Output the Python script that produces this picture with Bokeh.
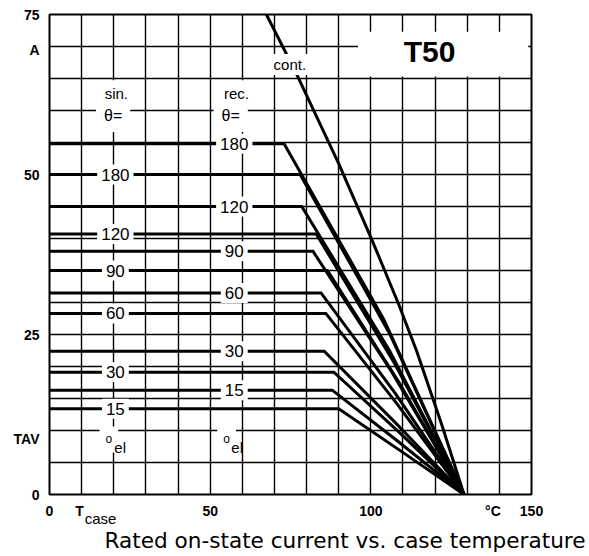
from bokeh.plotting import figure
from bokeh.models import (Range1d, FixedTicker, Label, BoxAnnotation,
                          ColumnDataSource, LinearAxis, Title)
from bokeh.embed import file_html
from bokeh.resources import INLINE

# ---------------- data ----------------
t_vj = 129.0  # all curves meet here (deg C, I = 0)

cont_t = [67.5, 76.9, 90.0, 100.5, 108.6, 114.2, 122.0, 129.0]
cont_i = [75.0, 65.7, 51.7, 39.6, 29.8, 22.5, 11.0, 0.0]

sin_angles = ["180", "120", "90", "60", "30", "15"]
sin_imax = [50.0, 40.7, 35.0, 28.3, 19.1, 13.4]
sin_tbreak = [78.0, 83.0, 86.5, 86.0, 88.5, 90.0]
sin_tmid = [106.0, 107.5, 108.8, 108.1, 109.1, 109.6]
sin_imid = [25.0, 20.4, 17.5, 14.2, 9.6, 6.7]

rec_angles = ["180", "120", "90", "60", "30", "15"]
rec_imax = [54.8, 45.0, 38.0, 31.5, 22.4, 16.3]
rec_tbreak = [73.0, 78.5, 82.0, 84.5, 85.5, 88.0]
rec_tmid = [104.0, 105.8, 106.7, 107.6, 107.7, 108.7]
rec_imid = [27.4, 22.5, 19.0, 15.8, 11.2, 8.2]

x_ticks = [0, 9.35, 50, 100, 138, 150]
x_tick_labels = ["0", "T", "50", "100", "°C", "150"]
x_sub_ticks = [15.9]
x_sub_labels = ["case"]
y_ticks = [0, 8.6, 25, 50, 69.4, 75]
y_tick_labels = ["0", "TAV", "25", "50", "A", "75"]

title_text = "Rated on-state current vs. case temperature"

# ---------------- figure ----------------
p = figure(frame_width=482, frame_height=480,
           x_range=Range1d(0, 150), y_range=Range1d(0, 75),
           output_backend="svg", toolbar_location=None, title=None,
           min_border_left=49, min_border_right=58,
           min_border_top=14, min_border_bottom=62)
p.background_fill_color = "white"
p.border_fill_color = "white"
p.outline_line_color = "black"
p.outline_line_width = 2

p.xgrid.ticker = FixedTicker(ticks=list(range(10, 150, 10)))
p.ygrid.ticker = FixedTicker(ticks=list(range(5, 75, 5)))
for g in (p.xgrid, p.ygrid):
    g.grid_line_color = "black"
    g.grid_line_width = 1.4
    g.grid_line_alpha = 1.0

p.xaxis.ticker = FixedTicker(ticks=x_ticks)
p.xaxis.major_label_overrides = dict(zip(x_ticks, x_tick_labels))
p.yaxis.ticker = FixedTicker(ticks=y_ticks)
p.yaxis.major_label_overrides = dict(zip(y_ticks, y_tick_labels))

sub_axis = LinearAxis(ticker=FixedTicker(ticks=x_sub_ticks),
                      major_label_overrides=dict(zip(x_sub_ticks, x_sub_labels)))
p.add_layout(sub_axis, "below")


def style_axis(ax, size="14px", weight="bold"):
    ax.axis_line_color = None
    ax.major_tick_line_color = None
    ax.minor_tick_line_color = None
    ax.major_tick_out = 0
    ax.major_tick_in = 0
    ax.minor_tick_out = 0
    ax.minor_tick_in = 0
    ax.major_label_text_font = "Liberation Sans"
    ax.major_label_text_font_style = weight
    ax.major_label_text_font_size = size
    ax.major_label_text_color = "black"


style_axis(p.xaxis[0])
style_axis(p.yaxis[0])
style_axis(sub_axis, size="15px", weight="normal")
p.xaxis[0].major_label_standoff = 8
p.yaxis[0].major_label_standoff = 10
sub_axis.major_label_standoff = -12

p.add_layout(Title(text=title_text, align="right", offset=-54, standoff=-8,
                   text_font="DejaVu Sans", text_font_size="21.6px",
                   text_font_style="normal", text_color="black"), "below")

# ---------------- curves ----------------
def add_curves(imax, tbreak, tmid, imid):
    for a, b, c, d in zip(imax, tbreak, tmid, imid):
        src = ColumnDataSource(dict(x=[0.0, b, c, t_vj], y=[a, a, d, 0.0]))
        p.line("x", "y", source=src, line_color="black", line_width=3,
               line_join="miter")


add_curves(sin_imax, sin_tbreak, sin_tmid, sin_imid)
add_curves(rec_imax, rec_tbreak, rec_tmid, rec_imid)
p.line(cont_t, cont_i, line_color="black", line_width=3, line_join="round")

# ---------------- annotations ----------------
FONT = "Liberation Sans"


def lab(x, y, text, size="17px", align="center", baseline="middle",
        style="normal", bg=True, pad=3, font=FONT):
    kw = dict(x=x, y=y, text=text, text_align=align, text_baseline=baseline,
              text_font=font, text_font_size=size, text_font_style=style,
              text_color="black")
    if bg:
        kw.update(background_fill_color="white", background_fill_alpha=1.0,
                  padding=pad)
    p.add_layout(Label(**kw))


for name, i in zip(sin_angles, sin_imax):
    lab(20.5, i, name, pad=4)
for name, i in zip(rec_angles, rec_imax):
    lab(57.5, i, name, pad=4)

lab(19.8, 59.2, "θ=", size="16px", pad=8)
lab(56.4, 59.2, "θ=", size="16px", pad=8)
lab(20.8, 62.6, "sin.", size="15px", pad=5)
lab(58.2, 62.6, "rec.", size="15px", pad=5)

lab(18.5, 8.6, "o", size="12px", pad=6)
lab(22.0, 7.4, "el", size="15px", bg=False)
lab(55.1, 8.6, "o", size="12px", pad=6)
lab(58.4, 7.4, "el", size="15px", bg=False)

lab(74.8, 67.2, "cont.", size="15px", pad=2)

p.add_layout(BoxAnnotation(left=96.0, right=149.0, bottom=65.3, top=72.3,
                           fill_color="white", fill_alpha=1.0,
                           line_color=None, level="annotation"))
lab(118.3, 69.2, "T50", size="30px", style="bold", bg=False)

open("out.html", "w").write(file_html(p, INLINE))
